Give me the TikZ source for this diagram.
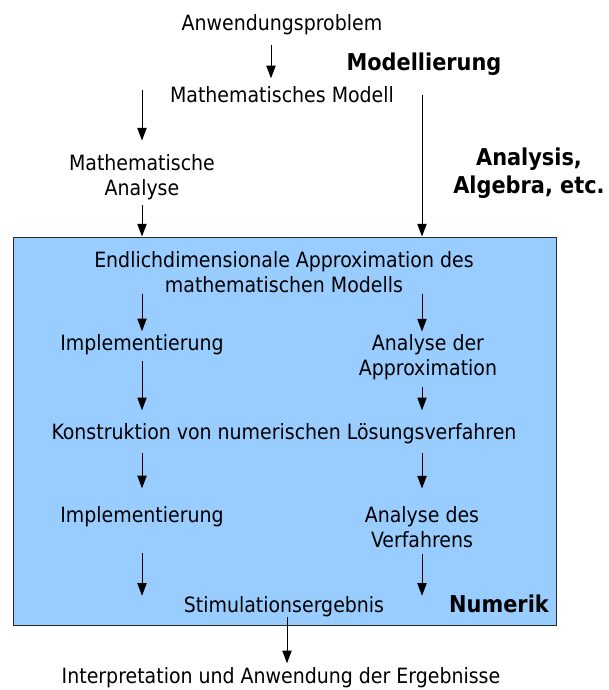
\documentclass[tikz,border=0pt]{standalone}
\usepackage{fontspec}
\setmainfont{DejaVu Sans Condensed}
\usetikzlibrary{arrows.meta,positioning}
\definecolor{NumBlue}{HTML}{99CCFF}
\definecolor{Frame}{HTML}{2A2A2A}

\begin{document}
\begin{tikzpicture}[x=0.75pt,y=-0.75pt,
    every node/.style={inner sep=0pt,align=center,font=\fontsize{15.8}{18.75}\selectfont},
    heading/.style={font=\fontsize{17.4}{21}\selectfont\bfseries},
    flow/.style={-{Triangle[length=9.5pt,width=7pt]},line width=0.75pt}]
    \useasboundingbox (0,0) rectangle (609,690);

    % the numerics box
    \node[draw=Frame,fill=NumBlue,line width=0.75pt,minimum width=407.6pt,minimum height=291.4pt,
          anchor=north west] (numbox) at (12.5,236.5) {};

    % columns of the arrows
    \coordinate (colL) at (142,0);
    \coordinate (colM) at (271,0);
    \coordinate (colR) at (422,0);
    \coordinate (colS) at (287,0);

    % above the box
    \node[anchor=base] (problem) at (282,30) {Anwendungsproblem};
    \node[anchor=base] (model) at (282,102) {Mathematisches Modell};
    \node[heading,anchor=base] (modelling) at (424,70) {Modellierung};
    \node[anchor=north] (mathana) at (142,154) {Mathematische\\Analyse};
    \node[heading,anchor=north] (algebra) at (529,147.5) {Analysis,\\Algebra, etc.};

    % inside the box
    \node[anchor=north] (approx) at (284,251) {Endlichdimensionale Approximation des\\mathematischen Modells};
    \node[anchor=base] (implA) at (142,350) {Implementierung};
    \node[anchor=north] (anaapprox) at (428,334) {Analyse der\\Approximation};
    \node[anchor=base] (solver) at (284,439) {Konstruktion von numerischen Lösungsverfahren};
    \node[anchor=base] (implB) at (142,522) {Implementierung};
    \node[anchor=north] (anasolver) at (422,506) {Analyse des\\Verfahrens};
    \node[anchor=base] (result) at (284,612) {Stimulationsergebnis};
    \node[heading,anchor=base] (numerik) at (499,612) {Numerik};

    % below the box
    \node[anchor=base] (interp) at (281,683) {Interpretation und Anwendung der Ergebnisse};

    % arrows
    \draw[flow,shorten <=7.9pt,shorten >=5.6pt] (problem.south -| colM) -- (model.north -| colM);
    \draw[flow,shorten <=3.4pt,shorten >=10.1pt] (model.north -| colL) -- (mathana.north -| colL);
    \draw[flow,shorten <=4.1pt] (mathana.south -| colL) -- (numbox.north -| colL);
    \draw[flow,shorten <=7.1pt] (model.north -| colR) -- (numbox.north -| colR);

    \draw[flow,shorten <=0.75pt,shorten >=1.9pt] (approx.south -| colL) -- (implA.north -| colL);
    \draw[flow,shorten <=0.75pt,shorten >=1.9pt] (approx.south -| colR) -- (anaapprox.north -| colR);
    \draw[flow,shorten <=4.9pt,shorten >=9.4pt] (implA.south -| colL) -- (solver.north -| colL);
    \draw[flow,shorten <=5.6pt,shorten >=9.4pt] (anaapprox.south -| colR) -- (solver.north -| colR);
    \draw[flow,shorten <=7.1pt,shorten >=13.1pt] (solver.south -| colL) -- (implB.north -| colL);
    \draw[flow,shorten <=7.1pt,shorten >=13.1pt] (solver.south -| colR) -- (anasolver.north -| colR);
    \draw[flow,shorten <=19.9pt] (implB.south -| colL) -- (result.north -| colL);
    \draw[flow,shorten <=4.5pt] (anasolver.south -| colR) -- (result.north -| colR);
    \draw[flow,shorten >=2.6pt] (result.south -| colS) -- (interp.north -| colS);
\end{tikzpicture}
\end{document}
